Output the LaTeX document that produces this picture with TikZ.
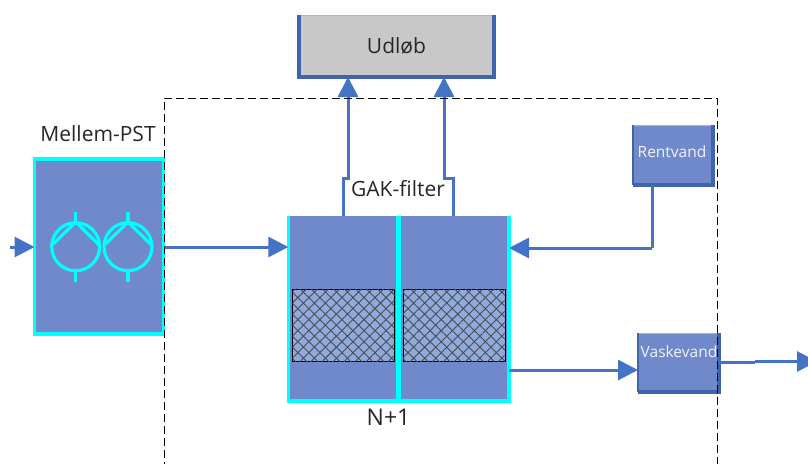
\documentclass[tikz,border=0pt]{standalone}
\usepackage{fontspec}
\setmainfont{Open Sans}
\usepackage{xcolor}
\usetikzlibrary{arrows.meta, patterns.meta, calc}

\definecolor{flowblue}{HTML}{4472C4}
\definecolor{edgeblue}{HTML}{3F64AD}
\definecolor{boxblue}{HTML}{6F89CA}
\definecolor{bedblue}{HTML}{8FAADC}
\definecolor{pumpcyan}{HTML}{00FFFF}
\definecolor{outletgray}{HTML}{C8C8C8}

\tikzset{
    tank/.style={fill=boxblue, inner sep=0pt, outer sep=0pt},
    tankrim/.style={pumpcyan, line width=3.4pt},
    bed/.style={draw=black, line width=1pt, fill=bedblue, inner sep=0pt, outer sep=0pt,
        minimum width=102pt, minimum height=72pt},
    panel/.style={draw=flowblue!50, line width=0.8pt, inner sep=0pt, outer sep=0pt},
    flow/.style={flowblue, line width=3pt, -{Triangle[length=20pt,width=20pt]}},
    pipe/.style={flowblue, line width=3pt},
    rim/.style={edgeblue, line width=3.2pt},
    tag/.style={inner sep=0pt, font=\fontsize{21}{21}\selectfont, text=black!85},
    whitetag/.style={inner sep=0pt, font=\fontsize{15.5}{15.5}\selectfont, text=white!90!boxblue}
}

\begin{document}
\begin{tikzpicture}[x=1pt, y=-1pt]
    \useasboundingbox (0,0) rectangle (808,463);
    \clip (0,0) rectangle (808,463);

    % Boxes
    \node[panel, fill=outletgray, minimum width=195pt, minimum height=62pt] (udlob) at (396.5,46) {};
    \node[tank, draw=pumpcyan, line width=3.4pt, minimum width=129pt, minimum height=175pt] (pst) at (99,246.5) {};
    \node[tank, minimum width=220.7pt, minimum height=185pt] (filter) at (398.65,308.5) {};
    \node[panel, fill=boxblue, minimum width=80pt, minimum height=60pt] (rent) at (673,155) {};
    \node[panel, fill=boxblue, minimum width=81pt, minimum height=59pt] (vask) at (678.5,362.5) {};

    % Heavy rims
    \draw[rim] (udlob.north west) -- (udlob.south west) -- (udlob.south east) -- (udlob.north east);
    \draw[rim] (rent.south west) -- (rent.south east) -- (rent.north east);
    \draw[edgeblue, line width=1.8pt] (rent.north west) -- (rent.south west);
    \draw[rim] (vask.south west) -- (vask.south east) -- (vask.north east);
    \draw[edgeblue, line width=2.4pt] (vask.north west) -- (vask.south west);

    % Filter cells, open at the top
    \draw[tankrim] (filter.north west) -- (filter.south west) -- (filter.south east) -- (filter.north east);
    \draw[pumpcyan, line width=5pt] (filter.north) -- (filter.south);
    \node[bed] (bedL) at (343.5,325) {};
    \node[bed] (bedR) at (454,325) {};
    \foreach \cell in {bedL, bedR} {
        \fill[pattern={Lines[angle=45, distance=7.8pt, line width=0.9pt]}, pattern color=black!70]
            (\cell.south west) rectangle (\cell.north east);
        \fill[pattern={Lines[angle=-45, distance=7.8pt, line width=0.9pt]}, pattern color=black!70]
            (\cell.south west) rectangle (\cell.north east);
    }

    % Pumps
    \foreach \cx in {75.7, 128} {
        \draw[pumpcyan, line width=3.2pt] (\cx,246.7) circle (24);
        \draw[pumpcyan, line width=3.2pt] (\cx,211.7) -- (\cx,222);
        \draw[pumpcyan, line width=3.2pt] (\cx,271) -- (\cx,281.7);
        \draw[pumpcyan, line width=3.2pt] (\cx-23.5,245) -- (\cx,222) -- (\cx+23.5,245);
    }

    % Flows
    \coordinate (inlet) at (10,247);
    \coordinate (outlet) at (817,361.5);
    \draw[flow] (inlet) -- (inlet -| pst.west);
    \draw[flow] (pst.east |- 0,247) -- (filter.west |- 0,247);
    \draw[flow] (343,216) -- (343,178) -- (348,178) -- (348,0 |- udlob.south);
    \draw[flow] (453.5,216) -- (453.5,178) -- (444,178) -- (444,0 |- udlob.south);
    \draw[pipe] (652,185) -- (652,248);
    \draw[flow] (652,248) -- (filter.east |- 0,248);
    \draw[flow] (filter.east |- 0,370) -- (vask.west |- 0,370);
    \draw[pipe] (vask.east |- 0,362.5) -- (755,362.5);
    \draw[flow] (755,361.5) -- (outlet);

    % Labels
    \node[tag] (udlobtext) at (396.5,46) {Udløb};
    \node[tag] (psttext) at (98,134) {Mellem-PST};
    \node[tag] (filtertext) at (398,189) {GAK-filter};
    \node[tag, font=\fontsize{23}{23}\selectfont] (spare) at (388.5,417) {N+1};
    \node[whitetag] (renttext) at (672,152) {Rentvand};
    \node[whitetag] (vasktext) at (679,352) {Vaskevand};

    % Boundary
    \draw[black, dashed, line width=0.9pt, dash pattern=on 8pt off 4pt]
        (164,470) -- (164,98) -- (717.5,98) -- (717.5,470);
\end{tikzpicture}
\end{document}
